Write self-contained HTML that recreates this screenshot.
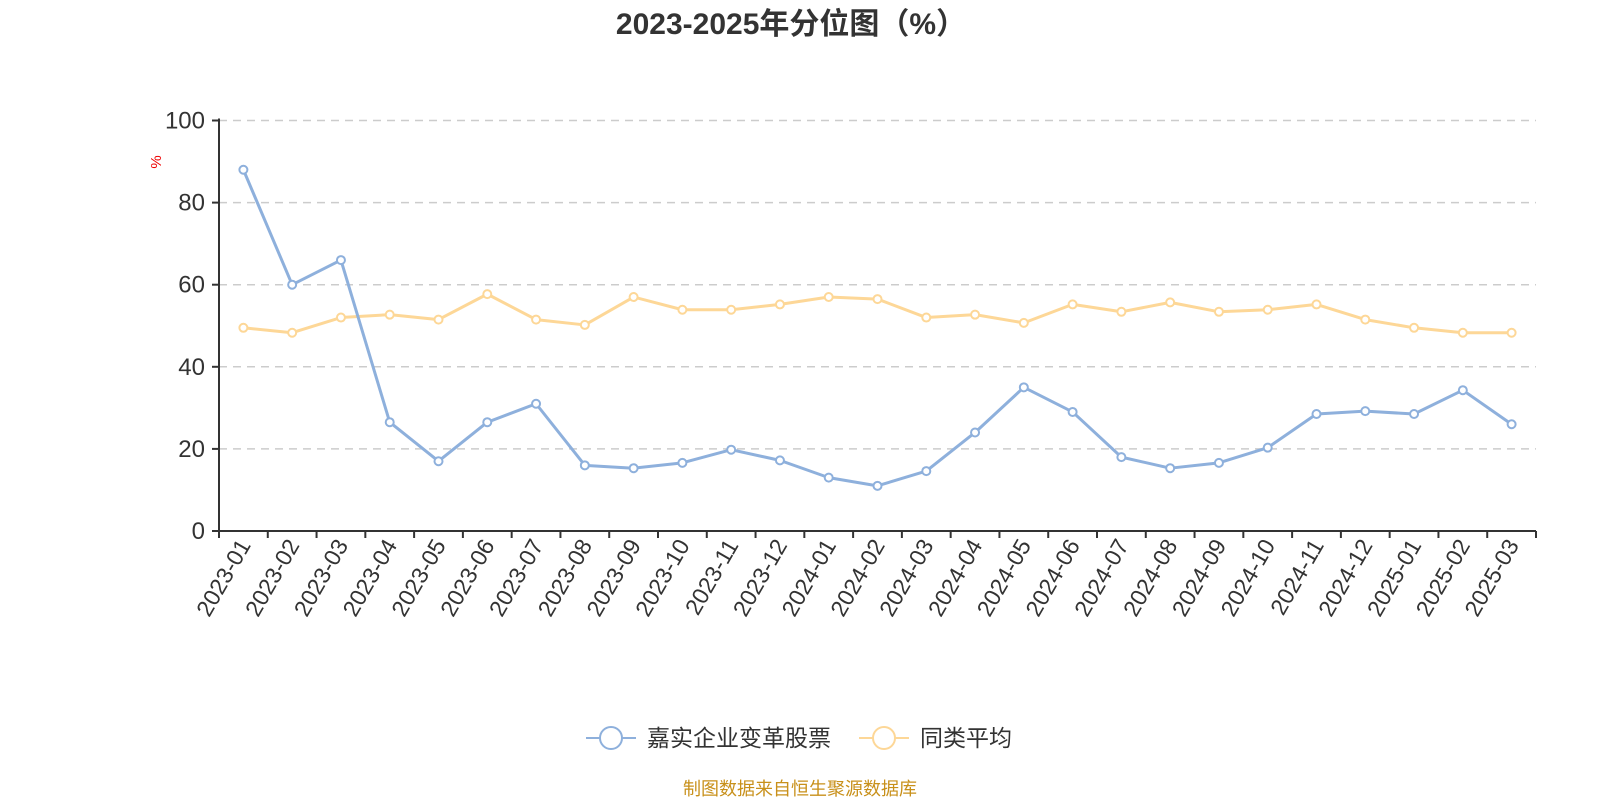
<!DOCTYPE html>
<html><head><meta charset="utf-8"><style>
html,body{margin:0;padding:0;background:#fff;width:1600px;height:800px;overflow:hidden}
svg text{font-family:"Liberation Sans","Noto Sans CJK SC",sans-serif}
</style></head><body>
<svg id="chart" width="1600" height="800" xmlns="http://www.w3.org/2000/svg">
<text x="791" y="34" text-anchor="middle" font-size="30" font-weight="bold" fill="#333">2023-2025年分位图（%）</text>
<text x="0" y="0" transform="translate(161,162) rotate(-90)" text-anchor="middle" font-size="15" fill="#e00">%</text>
<g id="grid"></g><g id="axes"></g><g id="series"></g>
<g>
<g>
<line x1="586" y1="738" x2="636" y2="738" stroke="#8eb0dc" stroke-width="2"/>
<circle cx="611" cy="738" r="11" fill="#fff" stroke="#8eb0dc" stroke-width="2"/>
<text x="647" y="746" font-size="23" fill="#333">嘉实企业变革股票</text></g>
<g>
<line x1="859" y1="738" x2="909" y2="738" stroke="#fdd797" stroke-width="2"/>
<circle cx="884" cy="738" r="11" fill="#fff" stroke="#fdd797" stroke-width="2"/>
<text x="920" y="746" font-size="23" fill="#333">同类平均</text></g>
</g>
<text x="800" y="795" text-anchor="middle" font-size="18" fill="#c8901a">制图数据来自恒生聚源数据库</text>
</svg>
<script>
const categories=["2023-01","2023-02","2023-03","2023-04","2023-05","2023-06","2023-07","2023-08","2023-09","2023-10","2023-11","2023-12","2024-01","2024-02","2024-03","2024-04","2024-05","2024-06","2024-07","2024-08","2024-09","2024-10","2024-11","2024-12","2025-01","2025-02","2025-03"];
const fundValues=[88,60,66,26.5,17,26.5,31,16,15.3,16.6,19.8,17.2,13,11,14.6,24,35,29,18,15.3,16.6,20.3,28.5,29.2,28.5,34.3,26];
const avgValues=[49.5,48.3,52,52.7,51.5,57.7,51.5,50.2,57,53.9,53.9,55.2,57,56.5,52,52.7,50.7,55.2,53.4,55.7,53.4,53.9,55.2,51.5,49.5,48.3,48.3];
const yTicks=[0,20,40,60,80,100];
const NS="http://www.w3.org/2000/svg";
const X0=219,X1=1536,Y0=531,Y1=120.5;
const band=(X1-X0)/categories.length;
function xPos(i){return X0+band*(i+0.5);}
function yPos(v){return Y0-(v/100)*(Y0-Y1);}
function mk(tag,attrs,parent){const e=document.createElementNS(NS,tag);for(const k in attrs)e.setAttribute(k,attrs[k]);parent.appendChild(e);return e;}
const grid=document.getElementById('grid'),axes=document.getElementById('axes'),ser=document.getElementById('series');
yTicks.forEach(t=>{const y=yPos(t);
 if(t>0){const g=mk('line',{x1:X0,x2:X1,y1:y,y2:y,stroke:'#ccc','stroke-width':1.5,'stroke-dasharray':'8,6'},grid);
 
 }
 const tk=mk('line',{x1:X0-7,x2:X0,y1:y,y2:y,stroke:'#333','stroke-width':2},axes);
 
 
 const lb=mk('text',{x:X0-14,y:y+8,'text-anchor':'end','font-size':24,fill:'#333'},axes);lb.textContent=t;
 
 
});
const ya=mk('line',{x1:X0,x2:X0,y1:Y1-2,y2:Y0,stroke:'#333','stroke-width':2},axes);


const xa=mk('line',{x1:X0,x2:X1,y1:Y0,y2:Y0,stroke:'#333','stroke-width':2},axes);


for(let i=0;i<=categories.length;i++){const x=X0+band*i;
 const tk=mk('line',{x1:x,x2:x,y1:Y0,y2:Y0+7,stroke:'#333','stroke-width':2},axes);
 
 }
categories.forEach((c,i)=>{const x=xPos(i),y=Y0+14;
 const lb=mk('text',{x:0,y:0,transform:`translate(${x+8},${y}) rotate(-60)`,'text-anchor':'end','font-size':23,fill:'#333'},axes);lb.textContent=c;
 
 
});
function drawSeries(vals,color,name){
 const pts=vals.map((v,i)=>xPos(i)+','+yPos(v)).join(' ');
 const pl=mk('polyline',{points:pts,fill:'none',stroke:color,'stroke-width':3,'stroke-linejoin':'round'},ser);
 
 
 vals.forEach((v,i)=>{const c=mk('circle',{cx:xPos(i),cy:yPos(v),r:4,fill:'#fff',stroke:color,'stroke-width':2},ser);
  
  });
}
drawSeries(avgValues,'#fdd797','average');
drawSeries(fundValues,'#8eb0dc','fund');
</script>
</body></html>
